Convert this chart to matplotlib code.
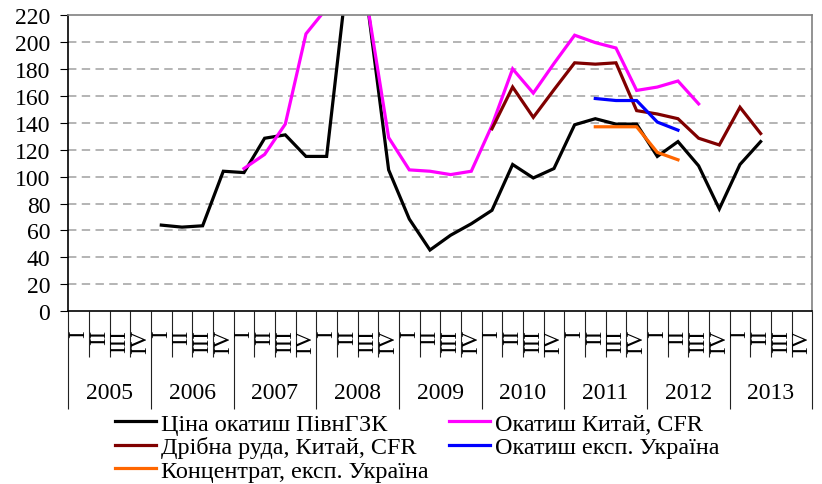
import numpy as np
import matplotlib
matplotlib.use("Agg")
import matplotlib.pyplot as plt

plt.rcParams['font.family'] = ['Liberation Serif', 'DejaVu Serif']

nan = np.nan
years = ['2005', '2006', '2007', '2008', '2009', '2010', '2011', '2012', '2013']
quarters = ['I', 'II', 'III', 'IV']

# quarterly prices, 2005 Q1 .. 2013 Q4
pivn_gzk = [nan, nan, nan, nan, 64, 62.5, 63.5, 104, 103, 128.5, 131, 115,
            115, 249, 225, 105, 68.5, 45.5, 56.5, 65, 75, 109, 99, 106,
            138.5, 143, 139, 139, 115, 126, 108, 76, 109, 126, nan, nan]
okat_china = [nan, nan, nan, nan, nan, nan, nan, nan, 106, 116.5, 139, 206,
              225, 262, 225, 129, 105, 104, 101.5, 104, 138, 180, 162, 184,
              205, 199.5, 195.5, 164, 166.5, 171, 154, nan, nan, nan, nan, nan]
ruda_china = [nan] * 20 + [135.5, 166.5, 144, 164.5, 184.5, 183.5, 184.5, 149,
                           146.5, 143, 128.5, 123.5, 151.5, 132, nan, nan]
okat_ukr = [nan] * 25 + [158, 156.5, 156.5, 140.5, 134.5] + [nan] * 6
konc_ukr = [nan] * 25 + [137, 137, 137, 118, 112.5] + [nan] * 6

series = [
    (pivn_gzk, 'Ціна окатиш ПівнГЗК', 'black'),
    (okat_china, 'Окатиш Китай, CFR', '#ff00ff'),
    (ruda_china, 'Дрібна руда, Китай, CFR', '#800000'),
    (okat_ukr, 'Окатиш експ. Україна', '#0000ff'),
    (konc_ukr, 'Концентрат, експ. Україна', '#ff6600'),
]

W, H = 822, 485
fig = plt.figure(figsize=(W / 100, H / 100), dpi=100)
L, R, T, B = 68.3, 812.3, 16, 312.3
ax = fig.add_axes([L / W, 1 - B / H, (R - L) / W, (B - T) / H])

n = len(years) * len(quarters)
x = np.arange(n) + 0.5
lines = []
for vals, name, col in series:
    ln, = ax.plot(x, vals, color=col, lw=2.3, label=name, solid_joinstyle='miter')
    lines.append(ln)

ax.set_xlim(0, n)
ax.set_ylim(0, 220)
yt = np.arange(0, 221, 20)
ax.set_yticks(yt)
ax.set_yticklabels([str(v) for v in yt], fontfamily='Liberation Serif', fontsize=17)
for v in range(20, 220, 20):
    ax.axhline(v, color='#a0a0a0', lw=1.1, ls=(0, (5.5, 3.5)), zorder=0)

ax.tick_params(axis='y', direction='out', length=6, width=0.8, pad=7)
# category separators: short between quarters, long between years
ax.set_xticks(np.arange(0, n + 1, 4))
ax.set_xticks([i for i in range(n + 1) if i % 4], minor=True)
ax.tick_params(axis='x', which='major', direction='out', length=70.5, width=0.8,
               color='#222222', labelbottom=False)
ax.tick_params(axis='x', which='minor', direction='out', length=33, width=0.8,
               color='#222222', labelbottom=False)

for s in ['top', 'right']:
    ax.spines[s].set_color('#808080')
    ax.spines[s].set_linewidth(1.2)
for s in ['left', 'bottom']:
    ax.spines[s].set_color('black')
    ax.spines[s].set_linewidth(1.2)

tr = ax.get_xaxis_transform()
for i in range(n):
    ax.text(x[i], -0.06, quarters[i % 4], rotation=90, ha='center', va='top',
            fontsize=16.5, transform=tr)
for j, yr in enumerate(years):
    ax.text(j * 4 + 2, -0.275, yr, ha='center', va='center', fontsize=17, transform=tr)

legkw = dict(loc='upper left', frameon=False, fontsize=17.4, handlelength=1.7,
             handletextpad=0.2, labelspacing=0.06, borderpad=0, borderaxespad=0)
col1 = [0, 2, 4]
col2 = [1, 3]
fig.legend([lines[k] for k in col1], [series[k][1] for k in col1],
           bbox_to_anchor=(115 / W, 1 - 414 / H), **legkw)
fig.legend([lines[k] for k in col2], [series[k][1] for k in col2],
           bbox_to_anchor=(449 / W, 1 - 414 / H), **legkw)

fig.savefig('out.png', dpi=100)
